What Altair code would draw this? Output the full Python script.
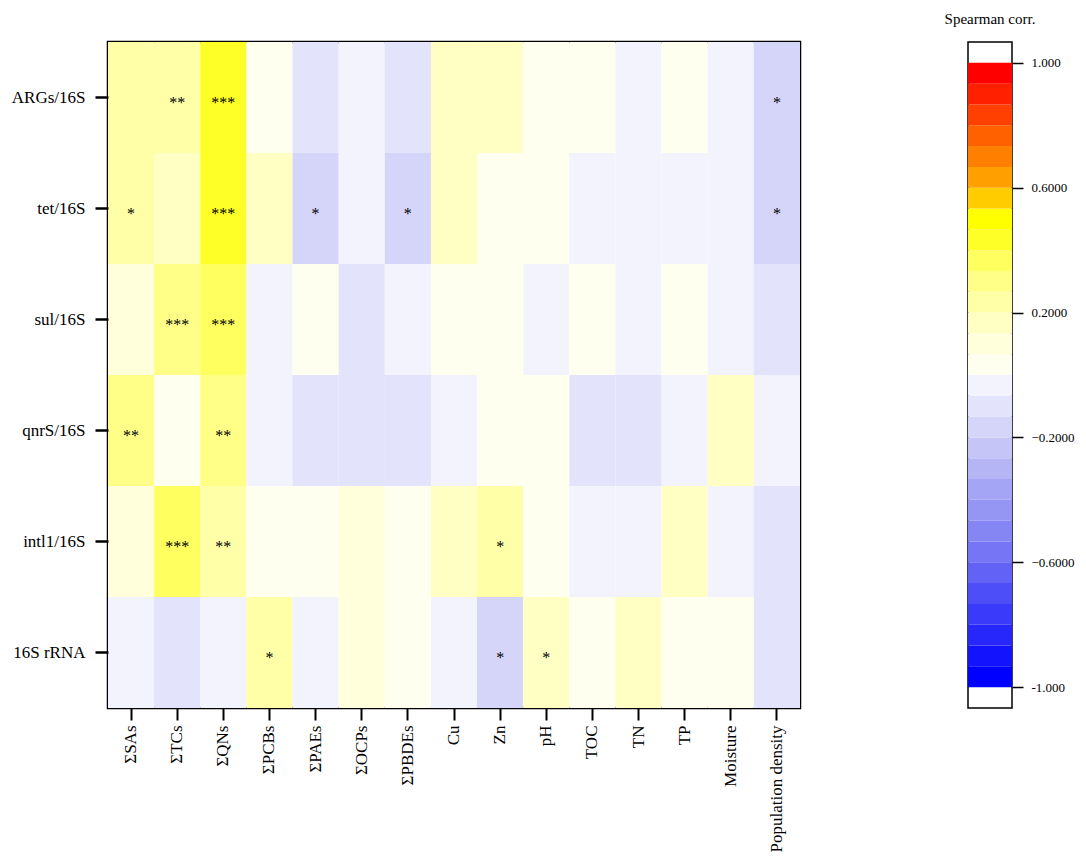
import altair as alt
import pandas as pd

rows = ["ARGs/16S", "tet/16S", "sul/16S", "qnrS/16S", "intl1/16S", "16S rRNA"]
cols = ["ΣSAs", "ΣTCs", "ΣQNs", "ΣPCBs", "ΣPAEs", "ΣOCPs", "ΣPBDEs", "Cu", "Zn",
        "pH", "TOC", "TN", "TP", "Moisture", "Population density"]

corr_args = [0.23, 0.24, 0.45, 0.03, -0.10, -0.03, -0.10, 0.16, 0.16, 0.05, 0.05, -0.03, 0.05, -0.04, -0.18]
corr_tet = [0.22, 0.14, 0.46, 0.14, -0.18, -0.03, -0.18, 0.15, 0.05, 0.04, -0.03, -0.03, -0.03, -0.03, -0.18]
corr_sul = [0.13, 0.32, 0.36, -0.03, 0.04, -0.10, -0.03, 0.05, 0.05, -0.03, 0.06, -0.03, 0.05, -0.03, -0.10]
corr_qnrs = [0.31, 0.04, 0.31, -0.03, -0.10, -0.10, -0.10, -0.03, 0.05, 0.05, -0.10, -0.10, -0.03, 0.15, -0.03]
corr_intl1 = [0.13, 0.37, 0.25, 0.05, 0.05, 0.12, 0.05, 0.15, 0.22, 0.05, -0.03, -0.03, 0.15, -0.03, -0.10]
corr_16s = [-0.03, -0.10, -0.03, 0.23, -0.03, 0.13, 0.05, -0.03, -0.18, 0.15, 0.05, 0.15, 0.05, 0.05, -0.10]

sig_args = ["", "**", "***", "", "", "", "", "", "", "", "", "", "", "", "*"]
sig_tet = ["*", "", "***", "", "*", "", "*", "", "", "", "", "", "", "", "*"]
sig_sul = ["", "***", "***", "", "", "", "", "", "", "", "", "", "", "", ""]
sig_qnrs = ["**", "", "**", "", "", "", "", "", "", "", "", "", "", "", ""]
sig_intl1 = ["", "***", "**", "", "", "", "", "", "*", "", "", "", "", "", ""]
sig_16s = ["", "", "", "*", "", "", "", "", "*", "*", "", "", "", "", ""]

# colour bar: 30 steps from -1 to 1
palette = ["#0000ff", "#1313fe", "#2727fc", "#3a3afa", "#4e4ef8", "#6262f6", "#7575f5", "#8585f4",
           "#9595f4", "#a5a5f5", "#b5b5f6", "#c5c5f8", "#d5d5fa", "#e3e3fb", "#f3f3fd",
           "#fffff0", "#ffffdc", "#ffffc4", "#ffffa8", "#ffff88", "#ffff60", "#ffff28", "#ffff00",
           "#ffcc00", "#ffa000", "#ff8000", "#ff6000", "#ff4000", "#ff2000", "#ff0000"]
n_steps = len(palette)
edges = [round(-1 + 2 * k / n_steps, 6) for k in range(n_steps + 1)]
bar_ticks = [1.0, 0.6, 0.2, -0.2, -0.6, -1.0]

all_corr = [corr_args, corr_tet, corr_sul, corr_qnrs, corr_intl1, corr_16s]
all_sig = [sig_args, sig_tet, sig_sul, sig_qnrs, sig_intl1, sig_16s]

records = []
for r, cv, sv in zip(rows, all_corr, all_sig):
    for c, v, s in zip(cols, cv, sv):
        records.append({"row": r, "col": c, "rho": v, "sig": s})
df = pd.DataFrame(records)

bar_df = pd.DataFrame({"lo": edges[:-1], "hi": edges[1:]})
bar_df["mid"] = (bar_df["lo"] + bar_df["hi"]) / 2

color_scale = alt.Scale(type="threshold", domain=edges[1:-1], range=palette)
FONT = "Liberation Serif"

base = alt.Chart(df)
x_enc = alt.X("col:N", sort=cols, title=None,
              axis=alt.Axis(labelAngle=-90, labelFont=FONT, labelFontSize=17, labelColor="black",
                            tickSize=12, tickWidth=2, tickColor="black", domain=False,
                            labelPadding=5))
y_enc = alt.Y("row:N", sort=rows, title=None,
              axis=alt.Axis(labelFont=FONT, labelFontSize=17, labelColor="black",
                            tickSize=13, tickWidth=2.5, tickColor="black", domain=False,
                            labelPadding=10))

heat = base.mark_rect().encode(
    x=x_enc, y=y_enc,
    color=alt.Color("rho:Q", scale=color_scale, legend=None),
)
stars = base.mark_text(font=FONT, fontSize=16, color="black", baseline="middle", dy=5).encode(
    x=alt.X("col:N", sort=cols), y=alt.Y("row:N", sort=rows), text="sig:N"
)
heatmap = alt.layer(heat, stars).properties(
    width=692, height=666,
    title=alt.TitleParams(" ", font=FONT, fontSize=15, offset=15),
    view=alt.ViewBackground(stroke="black", strokeWidth=2.5),
)

bar = alt.Chart(bar_df).mark_rect().encode(
    y=alt.Y("lo:Q", scale=alt.Scale(domain=[-1.0667, 1.0667], nice=False, zero=False),
            title=None,
            axis=alt.Axis(orient="right", values=bar_ticks, domain=False, grid=False,
                          tickSize=11, tickWidth=1.5, tickColor="black",
                          labelFont=FONT, labelFontSize=13, labelColor="black", labelPadding=8,
                          labelExpr="datum.value == 1 ? '1.000' : datum.value == -1 ? '-1.000' : format(datum.value, '.4f')")),
    y2="hi:Q",
    x=alt.value(0), x2=alt.value(44),
    color=alt.Color("mid:Q", scale=color_scale, legend=None),
).properties(
    width=44, height=666,
    title=alt.TitleParams("Spearman corr.", font=FONT, fontSize=15, fontWeight="normal",
                          offset=15, anchor="middle", color="black"),
    view=alt.ViewBackground(stroke="black", strokeWidth=1.5),
)

chart = alt.hconcat(heatmap, bar, spacing=141).properties(
    padding={"top": 2, "left": 2, "right": 2, "bottom": 0}
).configure_title(fontWeight="normal")

chart.save("out.html", embed_options={"renderer": "svg", "actions": False})
